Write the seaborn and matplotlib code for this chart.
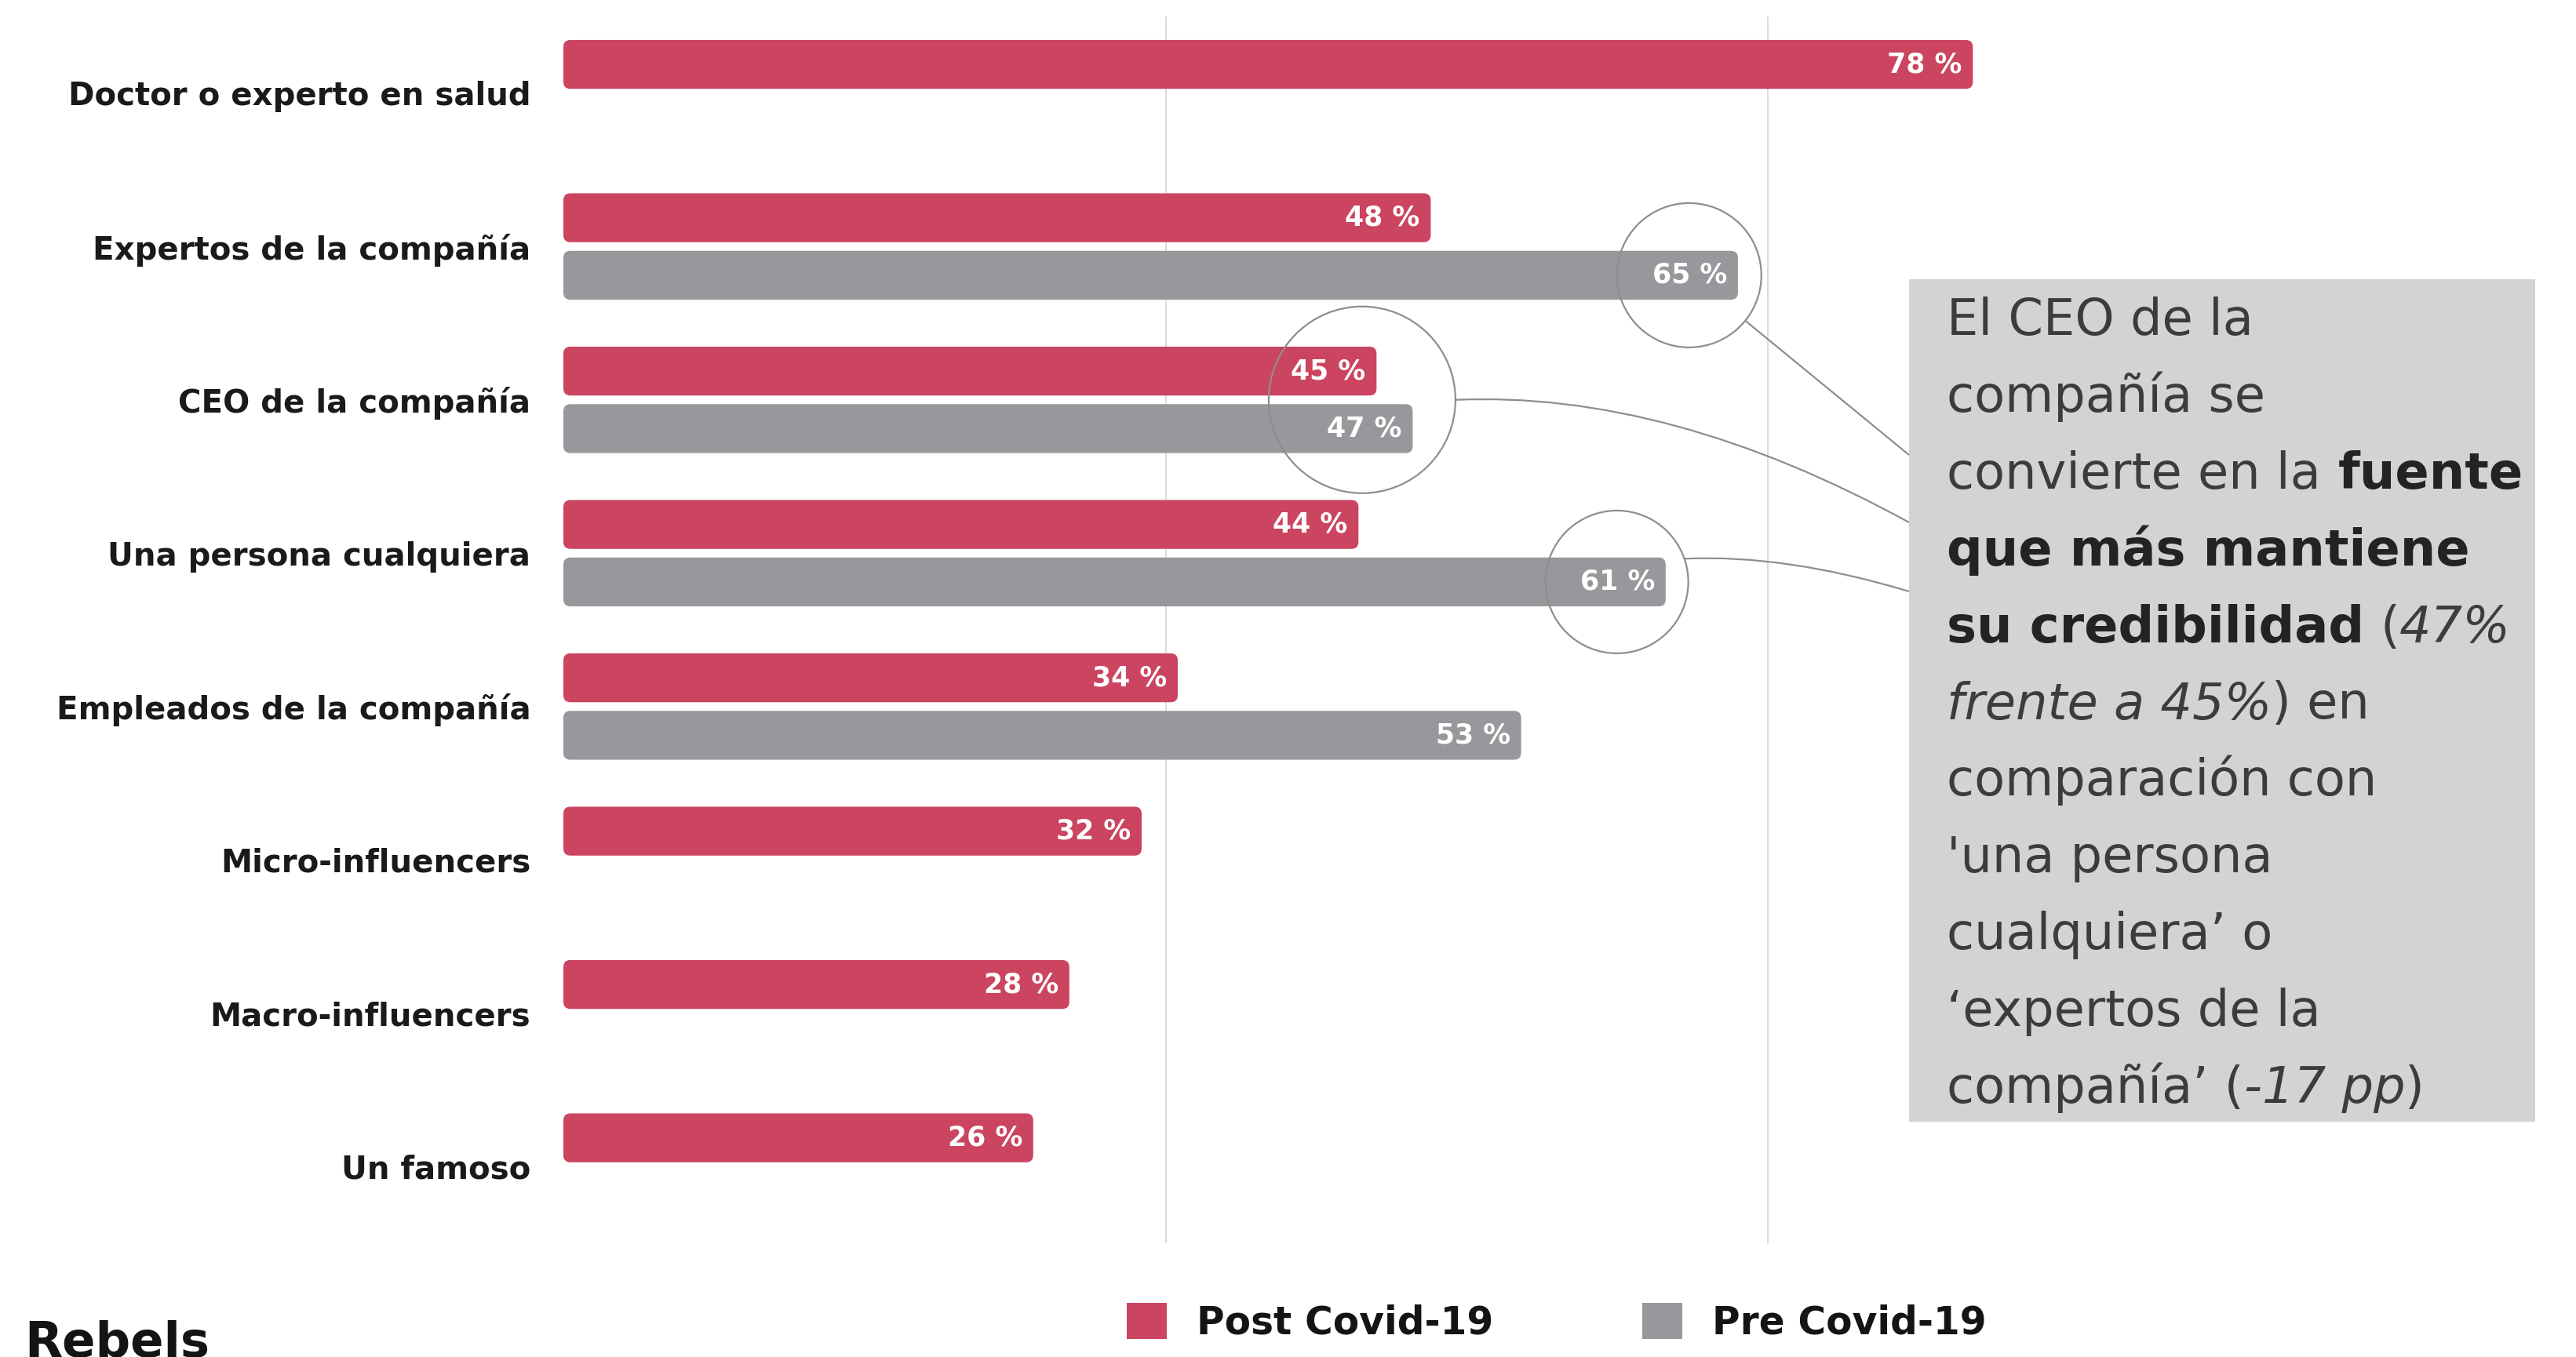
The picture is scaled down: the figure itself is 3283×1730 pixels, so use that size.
import numpy as np
import pandas as pd
import matplotlib.pyplot as plt
import seaborn as sns
from matplotlib.patches import FancyBboxPatch, Circle, Rectangle, PathPatch, Patch
from matplotlib.path import Path
from matplotlib.transforms import IdentityTransform

# datos
fuentes = ["Doctor o experto en salud", "Expertos de la compañía", "CEO de la compañía",
           "Una persona cualquiera", "Empleados de la compañía", "Micro-influencers",
           "Macro-influencers", "Un famoso"]
post_covid = [78, 48, 45, 44, 34, 32, 28, 26]
pre_covid = [None, 65, 47, 61, 53, None, None, None]
periodos = ["Post Covid-19", "Pre Covid-19"]
colores = ["#CB4460", "#97989B"]

filas = []
for f, post, pre in zip(fuentes, post_covid, pre_covid):
    filas.append((f, post, periodos[0]))
    if pre is not None:
        filas.append((f, pre, periodos[1]))
df = pd.DataFrame(filas, columns=["fuente", "valor", "periodo"])

W, H = 3283, 1730
sns.set_theme(style="white")
plt.rcParams["font.family"] = ["DejaVu Sans"]

fig = plt.figure(figsize=(W / 100, H / 100), dpi=100)
ax = fig.add_axes([718 / W, 1 - 1585 / H, 2303 / W, 1564 / H])

sns.barplot(data=df, x="valor", y="fuente", hue="periodo", order=fuentes, hue_order=periodos,
            palette=colores, orient="h", width=0.75, gap=0.15, dodge=True, saturation=1,
            errorbar=None, legend=False, ax=ax)
ax.set_xlim(0, 100)
ax.set_ylim(len(fuentes) - 0.5, -0.5)

# barras con esquinas redondeadas
px_x = 2303 / 100
px_y = 1564 / len(fuentes)
radio = 9
barras = []
for p in list(ax.patches):
    x0, y0, w, h = p.get_x(), p.get_y(), p.get_width(), p.get_height()
    color = p.get_facecolor()
    p.remove()
    ax.add_patch(FancyBboxPatch((x0, y0), w, h,
                                boxstyle=f"round,pad=0,rounding_size={radio / px_x}",
                                mutation_aspect=px_x / px_y, fc=color, ec="none", zorder=2))
    barras.append((w, y0 + h / 2))
    ax.text(w - 0.6, y0 + h / 2, f"{w:.0f} %", ha="right", va="center", color="white",
            fontsize=25, fontweight="bold", zorder=3)

def barra_y(valor, grupo):
    for w, yc in barras:
        if w == valor and round(yc) == grupo:
            return yc
    return grupo

ax.set_yticks(range(len(fuentes)))
ax.set_yticklabels(fuentes, fontsize=29, fontweight="bold", color="#1a1a1a")
ax.tick_params(axis="y", length=0, pad=30)
ax.set_xticks([0, 100 / 3, 200 / 3, 100])
ax.set_xticklabels([])
ax.tick_params(axis="x", length=8, width=1.5, color="#ececec")
for v in [100 / 3, 200 / 3]:
    ax.axvline(v, color="#dcdcdc", lw=1.5, zorder=0)
ax.set_xlabel("")
ax.set_ylabel("")
sns.despine(ax=ax, left=True, bottom=True)

# caja de texto
caja_x0, caja_y0, caja_x1, caja_y1 = 2433, 356, 3231, 1430
fig.add_artist(Rectangle((caja_x0, H - caja_y1), caja_x1 - caja_x0, caja_y1 - caja_y0,
                         transform=IdentityTransform(), fc="#d3d3d3", ec="none", zorder=1))

lineas = [
    [("El CEO de la", "n")],
    [("compañía se", "n")],
    [("convierte en la", "n"), (" fuente", "b")],
    [("que más mantiene", "b")],
    [("su credibilidad", "b"), (" (", "n"), ("47%", "i")],
    [("frente a 45%", "i"), (") en", "n")],
    [("comparación con", "n")],
    [("'una persona", "n")],
    [("cualquiera’ o", "n")],
    [("‘expertos de la", "n")],
    [("compañía’ (", "n"), ("-17 pp", "i"), (")", "n")],
]
estilos = {"n": dict(fontweight="normal", fontstyle="normal", color="#3c3c3c"),
           "b": dict(fontweight="bold", fontstyle="normal", color="#232323"),
           "i": dict(fontweight="normal", fontstyle="italic", color="#3c3c3c")}
fs_caja = 46
renderer = fig.canvas.get_renderer()

def ancho(s, est):
    t = fig.text(0, 0, s, fontsize=fs_caja, transform=IdentityTransform(), **estilos[est])
    bb = t.get_window_extent(renderer)
    t.remove()
    return bb.width

for i, linea in enumerate(lineas):
    x = 2481
    y = H - (427 + 97.9 * i)
    for texto, est in linea:
        if texto.startswith(" "):
            x += ancho("a a", est) - ancho("aa", est)
            texto = texto[1:]
        t = fig.text(x, y, texto, fontsize=fs_caja, va="baseline", ha="left",
                     transform=IdentityTransform(), zorder=2, **estilos[est])
        x = t.get_window_extent(renderer).x1

# círculos y conectores
gris = "#8e8e8e"
c1 = ax.transData.transform((65 - 2.7, barra_y(65, 1)))
c2 = ax.transData.transform((44.2, 2))
c3 = ax.transData.transform((61 - 2.7, barra_y(61, 3)))
r1, r2, r3 = 92, 119, 91
for c, r in [(c1, r1), (c2, r2), (c3, r3)]:
    fig.add_artist(Circle(c, r, transform=IdentityTransform(), fill=False, ec=gris, lw=1.6, zorder=4))

a1 = np.deg2rad(-39)
p0 = c1 + r1 * np.array([np.cos(a1), np.sin(a1)])
p1 = np.array([caja_x0, H - 580])
fig.add_artist(PathPatch(Path([p0, p1], [Path.MOVETO, Path.LINETO]),
                         transform=IdentityTransform(), fill=False, ec=gris, lw=1.6, zorder=4))

p0 = c2 + np.array([r2, 0])
p1 = np.array([caja_x0, H - 666])
ctrl = np.array([p0[0] + 0.47 * (p1[0] - p0[0]), p0[1] + 12])
fig.add_artist(PathPatch(Path([p0, ctrl, p1], [Path.MOVETO, Path.CURVE3, Path.CURVE3]),
                         transform=IdentityTransform(), fill=False, ec=gris, lw=1.6, zorder=4))

a3 = np.deg2rad(19)
p0 = c3 + r3 * np.array([np.cos(a3), np.sin(a3)])
p1 = np.array([caja_x0, H - 754])
ctrl = np.array([p0[0] + 0.45 * (p1[0] - p0[0]), p0[1] + 6])
fig.add_artist(PathPatch(Path([p0, ctrl, p1], [Path.MOVETO, Path.CURVE3, Path.CURVE3]),
                         transform=IdentityTransform(), fill=False, ec=gris, lw=1.6, zorder=4))

# leyenda
manijas = [Patch(fc=c, ec="none") for c in colores]
fig.legend(manijas, periodos, loc="center", bbox_to_anchor=(1984 / W, 1 - 1686 / H), ncol=2,
           frameon=False, prop=dict(size=35, weight="bold"), handlelength=1.05,
           handleheight=1.05, handletextpad=0.78, columnspacing=3.9, labelcolor="#141414")

fig.text(31 / W, 1 - 1683 / H, "Rebels", fontsize=45, fontweight="bold", va="top", ha="left",
         color="#141414")

fig.savefig("out.png", dpi=100)
